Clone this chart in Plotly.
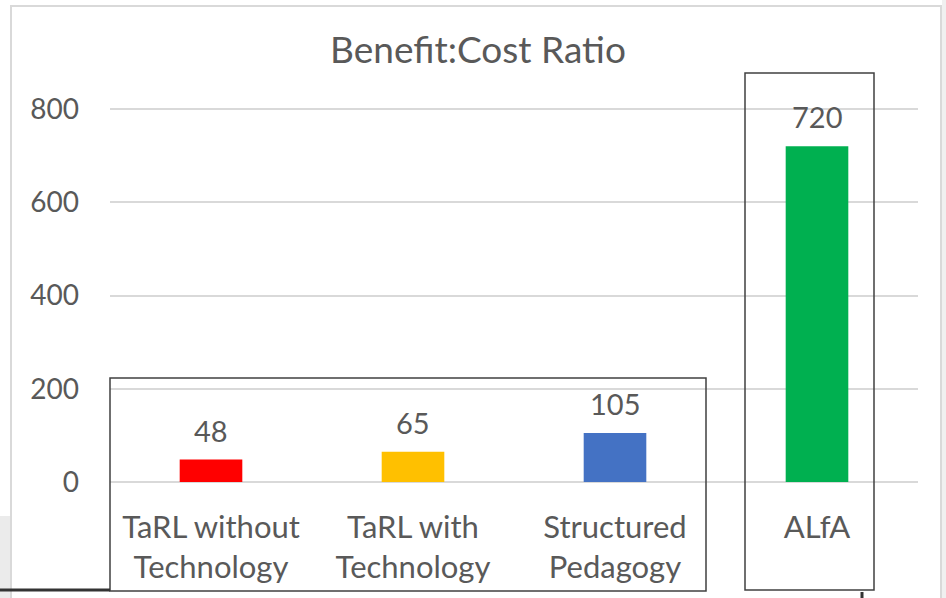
import plotly.graph_objects as go

categories = ["TaRL without<br>Technology", "TaRL with<br>Technology", "Structured<br>Pedagogy", "ALfA"]
values = [48, 65, 105, 720]
colors = ["#FF0000", "#FFC000", "#4472C4", "#00B050"]
y_ticks = [0, 200, 400, 600, 800]

FONT = "Lato"
TXT = "#595959"

W, H = 946, 598
L, R, T, B = 110, 28, 104, 116
PW, PH = W - L - R, H - T - B
Y_TOP = 800 * PH / 373  # so 800 lands 373 px above the zero line

def px(x):
    return (x - L) / PW

def py(y):
    return (H - B - y) / PH

fig = go.Figure()
fig.add_trace(go.Bar(
    x=categories, y=values, marker_color=colors, marker_line_width=0,
))

for c, v in zip(categories, values):
    fig.add_annotation(x=c, y=v, text=str(v), showarrow=False, yanchor="bottom",
                       yshift=10, font=dict(family=FONT, size=29, color=TXT))

shapes = [
    dict(type="rect", xref="paper", yref="paper", x0=px(11), x1=px(941), y0=py(640), y1=py(6),
         line=dict(color="#d9d9d9", width=2), layer="below"),
    dict(type="rect", xref="paper", yref="paper", x0=px(0), x1=px(10), y0=py(598), y1=py(516),
         line=dict(width=0), fillcolor="#ebebeb", layer="below"),
    dict(type="rect", xref="paper", yref="paper", x0=px(942), x1=px(946), y0=py(598), y1=py(0),
         line=dict(width=0), fillcolor="#f0f0f0", layer="below"),
    dict(type="rect", xref="paper", yref="paper", x0=px(110), x1=px(706), y0=py(591), y1=py(378),
         line=dict(color="#404040", width=1.5)),
    dict(type="rect", xref="paper", yref="paper", x0=px(745), x1=px(874), y0=py(590), y1=py(73),
         line=dict(color="#404040", width=1.5)),
    dict(type="line", xref="paper", yref="paper", x0=px(0), x1=px(110), y0=py(590), y1=py(590),
         line=dict(color="#333333", width=3)),
    dict(type="line", xref="paper", yref="paper", x0=px(862), x1=px(862), y0=py(592), y1=py(598),
         line=dict(color="#333333", width=3)),
]

fig.update_layout(
    width=W, height=H,
    margin=dict(l=L, r=R, t=T, b=B),
    paper_bgcolor="white", plot_bgcolor="white",
    title=dict(text="Benefit:Cost Ratio", x=478 / W, xref="container", xanchor="center",
               y=1 - 50 / H, yref="container", yanchor="middle",
               font=dict(family=FONT, size=37, color=TXT)),
    bargap=0.69,
    showlegend=False,
    shapes=shapes,
    xaxis=dict(range=[-0.5, 3.5], showline=False, showgrid=False, ticks="",
               tickfont=dict(family=FONT, size=31, color=TXT), ticklabelstandoff=24),
    yaxis=dict(range=[0, Y_TOP], tickvals=y_ticks, showline=False, showgrid=True,
               gridcolor="#d9d9d9", gridwidth=1.5, zeroline=True, zerolinecolor="#d9d9d9",
               zerolinewidth=1.5, ticks="",
               tickfont=dict(family=FONT, size=28, color=TXT), ticklabelstandoff=30),
)

fig.write_html("out.html", config={"displayModeBar": False},
               post_script="document.body.style.margin='0px';")
